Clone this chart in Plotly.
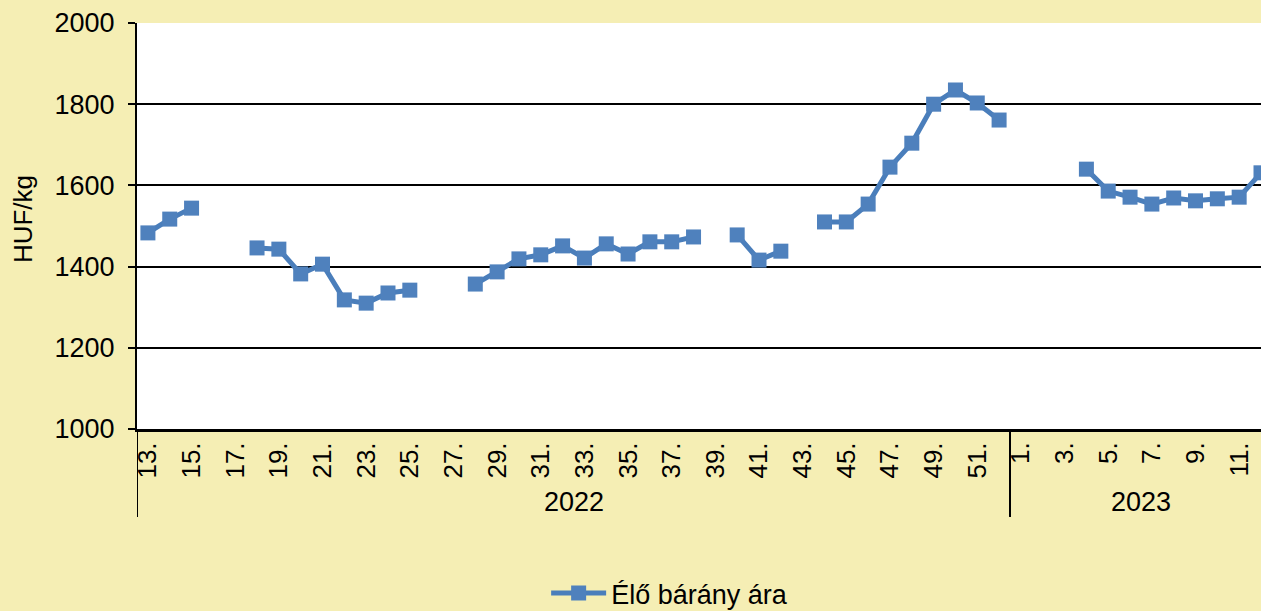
import plotly.graph_objects as go

# Weekly live lamb price, HUF/kg (None = no quotation that week)
years = [2022] * 40 + [2023] * 12
weeks = list(range(13, 53)) + list(range(1, 13))
price = [
    1483, 1517, 1544, None, None, 1446, 1443, 1382, 1406, 1318,
    1310, 1335, 1342, None, None, 1357, 1387, 1419, 1429, 1451,
    1421, 1456, 1431, 1461, 1461, 1473, None, 1478, 1416, 1438,
    None, 1510, 1510, 1554, 1645, 1704, 1800, 1835, 1803, 1761,
    None, None, None, 1640, 1586, 1571, 1554, 1569, 1562, 1567,
    1571, 1631,
]
series_name = "Élő bárány ára"
y_title = "HUF/kg"
y_ticks = [1000, 1200, 1400, 1600, 1800, 2000]

idx = list(range(len(weeks)))
tick_idx = [i for i in idx if i % 2 == 0]
tick_txt = [f"{weeks[i]}." for i in tick_idx]

BG = "#F5EEB4"
BLUE = "#4A7EBB"
FONT = "Liberation Sans, Arial, sans-serif"
FS = 27

fig = go.Figure()
fig.add_trace(go.Scatter(
    x=idx, y=price, name=series_name, mode="lines+markers",
    connectgaps=False,
    line=dict(color=BLUE, width=5),
    marker=dict(symbol="square", size=15, color="#4F81BD"),
    cliponaxis=False,
))

# year group labels and dividers under the week axis
groups = {}
for i, yr in enumerate(years):
    groups.setdefault(yr, []).append(i)
annotations = []
shapes = []
for yr, members in groups.items():
    lo, hi = members[0] - 0.5, members[-1] + 0.5
    annotations.append(dict(
        x=(lo + hi) / 2, y=-0.18, xref="x", yref="paper", text=str(yr),
        showarrow=False, font=dict(size=FS, color="black", family=FONT),
        xanchor="center", yanchor="middle",
    ))
    shapes.append(dict(type="line", xref="x", yref="paper", x0=lo, x1=lo,
                       y0=0, y1=-0.2167, line=dict(color="black", width=2)))

annotations.append(dict(
    x=-0.1014, y=0.517, xref="paper", yref="paper", text=y_title, textangle=-90,
    showarrow=False, font=dict(size=FS - 1, color="black", family=FONT),
    xanchor="center", yanchor="middle",
))

fig.update_layout(
    width=1261, height=611,
    margin=dict(l=137, r=0, t=23, b=182, autoexpand=False),
    paper_bgcolor=BG, plot_bgcolor="white",
    font=dict(family=FONT, size=FS, color="black"),
    showlegend=True,
    legend=dict(orientation="h", x=0.364, y=-0.405, xanchor="left", yanchor="middle",
                itemwidth=55,
                bgcolor="rgba(0,0,0,0)", font=dict(size=FS, color="black")),
    annotations=annotations,
    shapes=shapes,
    xaxis=dict(
        range=[-0.5, 51.0], tickmode="array", tickvals=tick_idx, ticktext=tick_txt,
        tickangle=-90, ticks="", showgrid=False, zeroline=False, automargin=False,
        showline=True, linecolor="black", linewidth=3,
        tickfont=dict(size=FS - 1, color="black"),
    ),
    yaxis=dict(
        range=[1000, 2000], tickvals=y_ticks, ticks="outside", ticklen=7,
        tickwidth=2, tickcolor="black", showgrid=True, gridcolor="black",
        gridwidth=2, zeroline=False, showline=True, linecolor="black",
        linewidth=2, automargin=False, ticklabelstandoff=8,
        tickfont=dict(size=FS, color="black"),
    ),
)

fig.write_html("out.html")
